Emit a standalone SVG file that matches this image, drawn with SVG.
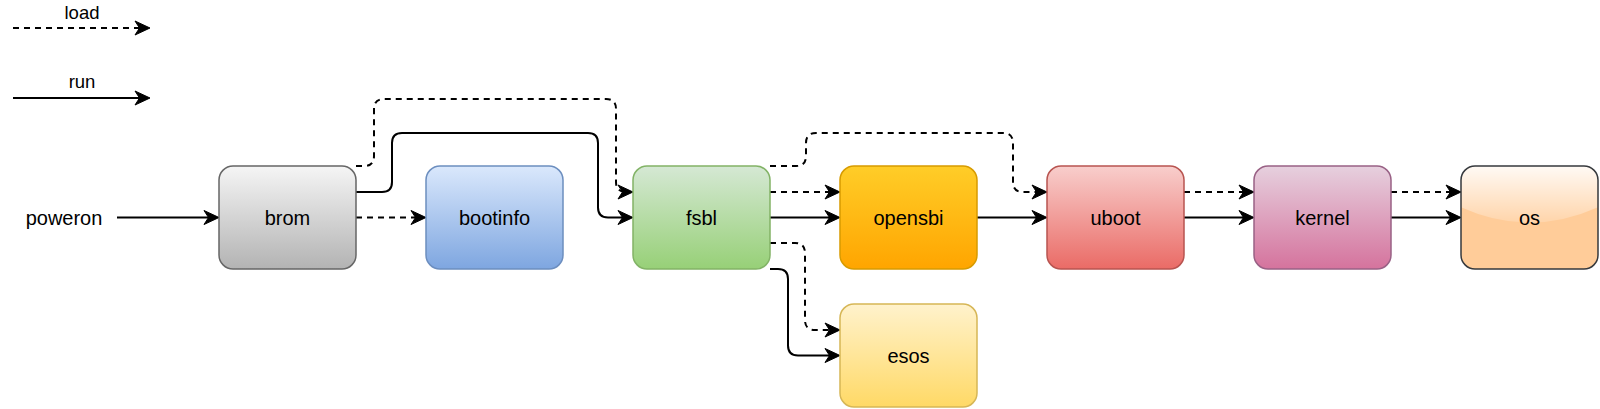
<svg xmlns="http://www.w3.org/2000/svg" width="1600" height="409" viewBox="0 0 1600 409">
<defs>
<style>
text{font-family:"Liberation Sans",Arial,Helvetica,sans-serif;fill:#000;text-anchor:middle}
.lbl{font-size:20px}
.leg{font-size:18.5px}
.node{stroke-width:1.5}
.c{fill:none;stroke:#000;stroke-width:2;marker-end:url(#arr)}
.d{stroke-dasharray:6 5}
</style>
<marker id="arr" markerUnits="userSpaceOnUse" markerWidth="17" markerHeight="15" refX="11" refY="7" orient="auto" viewBox="0 0 17 15" overflow="visible">
<path d="M0,0 L15,7 L0,14 L4.5,7 Z" fill="#000" stroke="#000" stroke-width="1" stroke-linejoin="miter"/>
</marker>
<linearGradient id="gBrom" x1="0" y1="0" x2="0" y2="1"><stop offset="0" stop-color="#f5f5f5"/><stop offset="1" stop-color="#b3b3b3"/></linearGradient>
<linearGradient id="gBoot" x1="0" y1="0" x2="0" y2="1"><stop offset="0" stop-color="#dae8fc"/><stop offset="1" stop-color="#7ea6e0"/></linearGradient>
<linearGradient id="gFsbl" x1="0" y1="0" x2="0" y2="1"><stop offset="0" stop-color="#d5e8d4"/><stop offset="1" stop-color="#97d077"/></linearGradient>
<linearGradient id="gSbi" x1="0" y1="0" x2="0" y2="1"><stop offset="0" stop-color="#ffcd28"/><stop offset="1" stop-color="#ffa500"/></linearGradient>
<linearGradient id="gUboot" x1="0" y1="0" x2="0" y2="1"><stop offset="0" stop-color="#f8cecc"/><stop offset="1" stop-color="#ea6b66"/></linearGradient>
<linearGradient id="gKern" x1="0" y1="0" x2="0" y2="1"><stop offset="0" stop-color="#e6d0de"/><stop offset="1" stop-color="#d5739d"/></linearGradient>
<linearGradient id="gEsos" x1="0" y1="0" x2="0" y2="1"><stop offset="0" stop-color="#fff2cc"/><stop offset="1" stop-color="#ffd966"/></linearGradient>
<linearGradient id="gGlass" gradientUnits="userSpaceOnUse" x1="0" y1="166" x2="0" y2="228"><stop offset="0" stop-color="#fff" stop-opacity="0.9"/><stop offset="1" stop-color="#fff" stop-opacity="0.1"/></linearGradient>
<clipPath id="osClip"><rect x="1461" y="166" width="137" height="103" rx="14"/></clipPath>
</defs>

<g id="legend">
<text class="leg" x="82" y="19">load</text>
<text class="leg" x="82" y="88">run</text>
</g>

<g id="connectors">
<path class="c d" d="M13,28 H146"/>
<path class="c" d="M13,98 H146"/>
<path class="c" d="M117,217.5 H215"/>
<path class="c d" d="M356,217.5 H422"/>
<path class="c d" d="M356,166 H364 Q374,166 374,156 V109 Q374,99 384,99 H606 Q616,99 616,109 V182 Q616,192 626,192 H629"/>
<path class="c" d="M356,192 H382 Q392,192 392,182 V143 Q392,133 402,133 H588 Q598,133 598,143 V207.5 Q598,217.5 608,217.5 H629"/>
<path class="c d" d="M770,192 H836"/>
<path class="c" d="M770,217.5 H836"/>
<path class="c d" d="M770,166 H796 Q806,166 806,156 V143 Q806,133 816,133 H1003 Q1013,133 1013,143 V182 Q1013,192 1023,192 H1043"/>
<path class="c d" d="M770,243 H795 Q805,243 805,253 V320 Q805,330 815,330 H836"/>
<path class="c" d="M770,269 H778 Q788,269 788,279 V345.5 Q788,355.5 798,355.5 H836"/>
<path class="c" d="M977,217.5 H1043"/>
<path class="c d" d="M1184,192 H1250"/>
<path class="c" d="M1184,217.5 H1250"/>
<path class="c d" d="M1391,192 H1457"/>
<path class="c" d="M1391,217.5 H1457"/>
</g>

<g id="poweron">
<text class="lbl" x="64" y="224.5">poweron</text>
</g>

<g id="brom">
<rect class="node" x="219" y="166" width="137" height="103" rx="14" fill="url(#gBrom)" stroke="#666666"/>
<text class="lbl" x="287.5" y="224.5">brom</text>
</g>

<g id="bootinfo">
<rect class="node" x="426" y="166" width="137" height="103" rx="14" fill="url(#gBoot)" stroke="#6c8ebf"/>
<text class="lbl" x="494.5" y="224.5">bootinfo</text>
</g>

<g id="fsbl">
<rect class="node" x="633" y="166" width="137" height="103" rx="14" fill="url(#gFsbl)" stroke="#82b366"/>
<text class="lbl" x="701.5" y="224.5">fsbl</text>
</g>

<g id="opensbi">
<rect class="node" x="840" y="166" width="137" height="103" rx="14" fill="url(#gSbi)" stroke="#d79b00"/>
<text class="lbl" x="908.5" y="224.5">opensbi</text>
</g>

<g id="esos">
<rect class="node" x="840" y="304" width="137" height="103" rx="14" fill="url(#gEsos)" stroke="#d6b656"/>
<text class="lbl" x="908.5" y="362.5">esos</text>
</g>

<g id="uboot">
<rect class="node" x="1047" y="166" width="137" height="103" rx="14" fill="url(#gUboot)" stroke="#b85450"/>
<text class="lbl" x="1115.5" y="224.5">uboot</text>
</g>

<g id="kernel">
<rect class="node" x="1254" y="166" width="137" height="103" rx="14" fill="url(#gKern)" stroke="#996185"/>
<text class="lbl" x="1322.5" y="224.5">kernel</text>
</g>

<g id="os">
<rect x="1461" y="166" width="137" height="103" rx="14" fill="#ffcc99"/>
<path clip-path="url(#osClip)" d="M1461,166 V207.2 Q1529.5,238 1598,207.2 V166 Z" fill="url(#gGlass)"/>
<rect x="1461" y="166" width="137" height="103" rx="14" fill="none" stroke="#36393d" stroke-width="1.5"/>
<text class="lbl" x="1529.5" y="224.5">os</text>
</g>
</svg>
